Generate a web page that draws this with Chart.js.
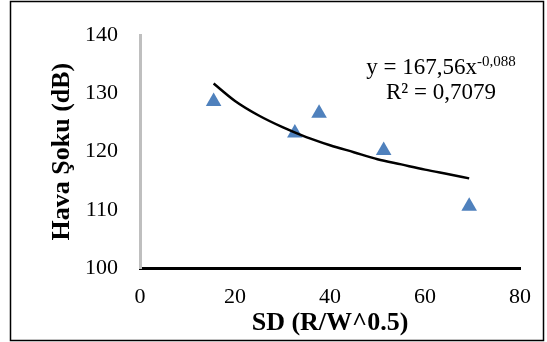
<!DOCTYPE html>
<html>
<head>
<meta charset="utf-8">
<script src="https://cdn.jsdelivr.net/npm/chart.js@4.4.0/dist/chart.umd.min.js"></script>
<style>
  html, body { margin: 0; padding: 0; background: #fff; }
  #wrap { width: 547px; height: 342px; }
</style>
</head>
<body>
<div id="wrap"><canvas id="chart" width="547" height="342"></canvas></div>
<script>
// measured points
var sdValues = [15.5, 32.6, 37.7, 51.3, 69.3];
var shockValues = [128.6, 123.2, 126.6, 120.2, 110.6];

// power trendline
var trendX = [15.5, 20, 25, 30, 35, 40, 45, 50, 55, 60, 65, 69.3];
var trendY = [131.7, 128.7, 126.2, 124.2, 122.5, 121.1, 119.9, 118.7, 117.8, 116.9, 116.1, 115.4];

var xTicks = [0, 20, 40, 60, 80];
var yTicks = [100, 110, 120, 130, 140];

var eqMain = "y = 167,56x";
var eqSup = "-0,088";
var r2Text = "R² = 0,7079";

var serif = '"Liberation Serif", "Times New Roman", serif';

function toPoints(xs, ys){
  var out = [];
  for (var i = 0; i < xs.length; i++) out.push({x: xs[i], y: ys[i]});
  return out;
}

var framePlugin = {
  id: 'frame',
  afterDraw: function(chart){
    var ctx = chart.ctx;
    ctx.save();
    ctx.strokeStyle = '#000';
    ctx.lineWidth = 1.5;
    ctx.strokeRect(10.5, 1.5, 533, 339);

    // trendline label
    ctx.fillStyle = '#000';
    ctx.textBaseline = 'alphabetic';
    ctx.textAlign = 'left';
    ctx.font = '23px ' + serif;
    var mainW = ctx.measureText(eqMain).width;
    ctx.font = '15px ' + serif;
    var supW = ctx.measureText(eqSup).width;
    var cx = 441;
    var x0 = cx - (mainW + supW) / 2;
    ctx.font = '23px ' + serif;
    ctx.fillText(eqMain, x0, 73.5);
    ctx.font = '15px ' + serif;
    ctx.fillText(eqSup, x0 + mainW, 66);
    ctx.font = '23px ' + serif;
    ctx.textAlign = 'center';
    ctx.fillText(r2Text, cx, 98.5);
    ctx.restore();
  }
};

var ctx = document.getElementById("chart");
new Chart(ctx, {
  type: 'scatter',
  data: {
    datasets: [{
      label: 'Hava Şoku',
      data: toPoints(sdValues, shockValues),
      pointStyle: 'triangle',
      pointRadius: 9,
      backgroundColor: '#4f81bd',
      borderColor: '#4f81bd',
      borderWidth: 0,
      order: 2
    }, {
      label: 'Trend',
      type: 'line',
      data: toPoints(trendX, trendY),
      borderColor: '#000',
      borderWidth: 2.5,
      pointRadius: 0,
      cubicInterpolationMode: 'monotone',
      fill: false,
      order: 1
    }]
  },
  options: {
    responsive: false,
    animation: false,
    layout: { padding: { left: 47, right: 27, top: 31, bottom: 3 } },
    plugins: {
      legend: { display: false },
      tooltip: { enabled: false }
    },
    scales: {
      x: {
        type: 'linear',
        min: 0,
        max: 80,
        afterBuildTicks: function(s){ s.ticks = xTicks.map(function(v){ return {value: v}; }); },
        afterFit: function(s){ s.height = 71; },
        grid: { display: false, drawTicks: false },
        border: { display: true, color: '#000', width: 3 },
        ticks: { color: '#000', padding: 16, font: { family: serif, size: 22 } },
        title: {
          display: true,
          text: 'SD (R/W^0.5)',
          color: '#000',
          padding: 0,
          font: { family: serif, size: 26, weight: 'bold' }
        }
      },
      y: {
        min: 100,
        max: 140,
        afterBuildTicks: function(s){ s.ticks = yTicks.map(function(v){ return {value: v}; }); },
        afterFit: function(s){ s.width = 93; },
        grid: { display: false, drawTicks: false },
        border: { display: true, color: '#bfbfbf', width: 3 },
        ticks: { color: '#000', padding: 22, font: { family: serif, size: 22 } },
        title: {
          display: true,
          text: 'Hava Şoku (dB)',
          color: '#000',
          padding: 0,
          font: { family: serif, size: 26, weight: 'bold' }
        }
      }
    }
  },
  plugins: [framePlugin]
});
</script>
</body>
</html>
